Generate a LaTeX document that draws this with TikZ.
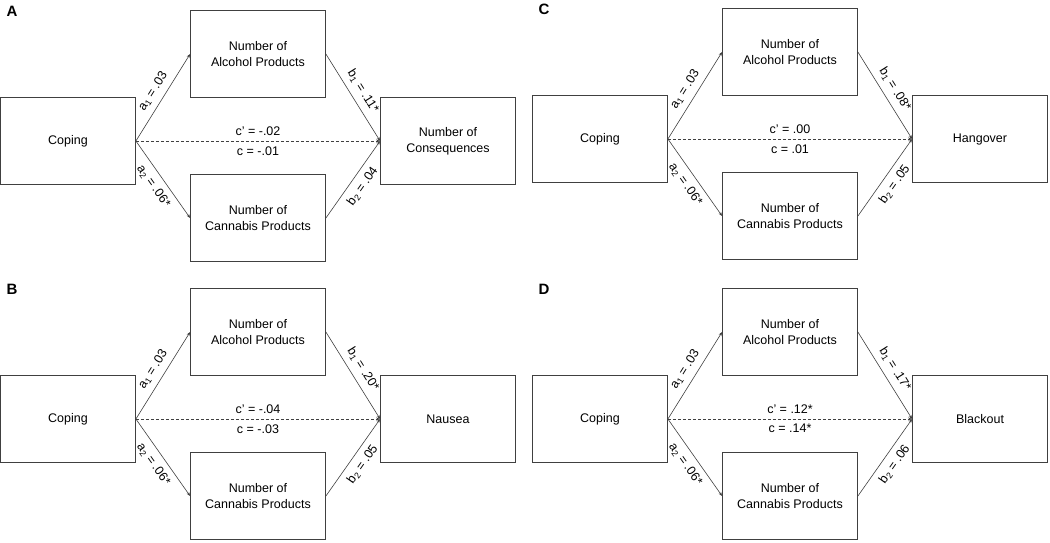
\documentclass[tikz,border=0pt]{standalone}
\usepackage{fontspec}
\setmainfont{Liberation Sans}
\usetikzlibrary{arrows.meta,positioning}

\tikzset{
  box/.style={draw=black!75, line width=0.8pt, minimum width=135pt,
    minimum height=87pt, inner sep=0pt, align=center,
    font=\fontsize{12.5}{16}\selectfont},
  link/.style={-{Stealth[length=4pt,width=3pt]}, draw=black!75, line width=0.6pt,
    font=\fontsize{12.5}{15}\selectfont},
  coef/.style={inner sep=6pt, sloped},
  panel/.style={font=\fontsize{15}{18}\selectfont\bfseries}
}

% #1 panel, #2/#3 centre of Coping, #4 outcome, #5 b1, #6 b2, #7 c', #8 c
\newcommand{\medmodel}[8]{%
  \begin{scope}[shift={(#2,#3)}]
    \node[panel] (#1lab) at (-56,130) {#1};
    \node[box] (#1cope) at (0,0) {Coping};
    \node[box] (#1alc) at (190,87) {Number of\\Alcohol Products};
    \node[box] (#1can) at (190,-77) {Number of\\Cannabis Products};
    \node[box] (#1out) at (380,0) {#4};

    \draw[link] (#1cope.east) -- node[coef,above] {a\textsubscript{1} = .03} (#1alc.west);
    \draw[link] (#1cope.east) -- node[coef,below] {a\textsubscript{2} = .06*} (#1can.west);
    \draw[link,dash pattern=on 3pt off 2pt] (#1cope.east) --
        node[above,inner sep=5pt] {c’ = #7} node[below,inner sep=5pt] {c = #8} (#1out.west);
    \draw[link] (#1alc.east) -- node[coef,above] {b\textsubscript{1} = #5} (#1out.west);
    \draw[link] (#1can.east) -- node[coef,below] {b\textsubscript{2} = #6} (#1out.west);
  \end{scope}}

\begin{document}
\begin{tikzpicture}[x=1pt,y=1pt]
  \useasboundingbox (0,0) rectangle (1050,-542);

  \medmodel{A}{68}{-141}{Number of\\Consequences}{.11*}{.04}{-.02}{-.01}
  \medmodel{B}{68}{-419}{Nausea}{.20*}{.05}{-.04}{-.03}
  \medmodel{C}{600}{-139}{Hangover}{.08*}{.05}{.00}{.01}
  \medmodel{D}{600}{-419}{Blackout}{.17*}{.06}{.12*}{.14*}
\end{tikzpicture}
\end{document}
